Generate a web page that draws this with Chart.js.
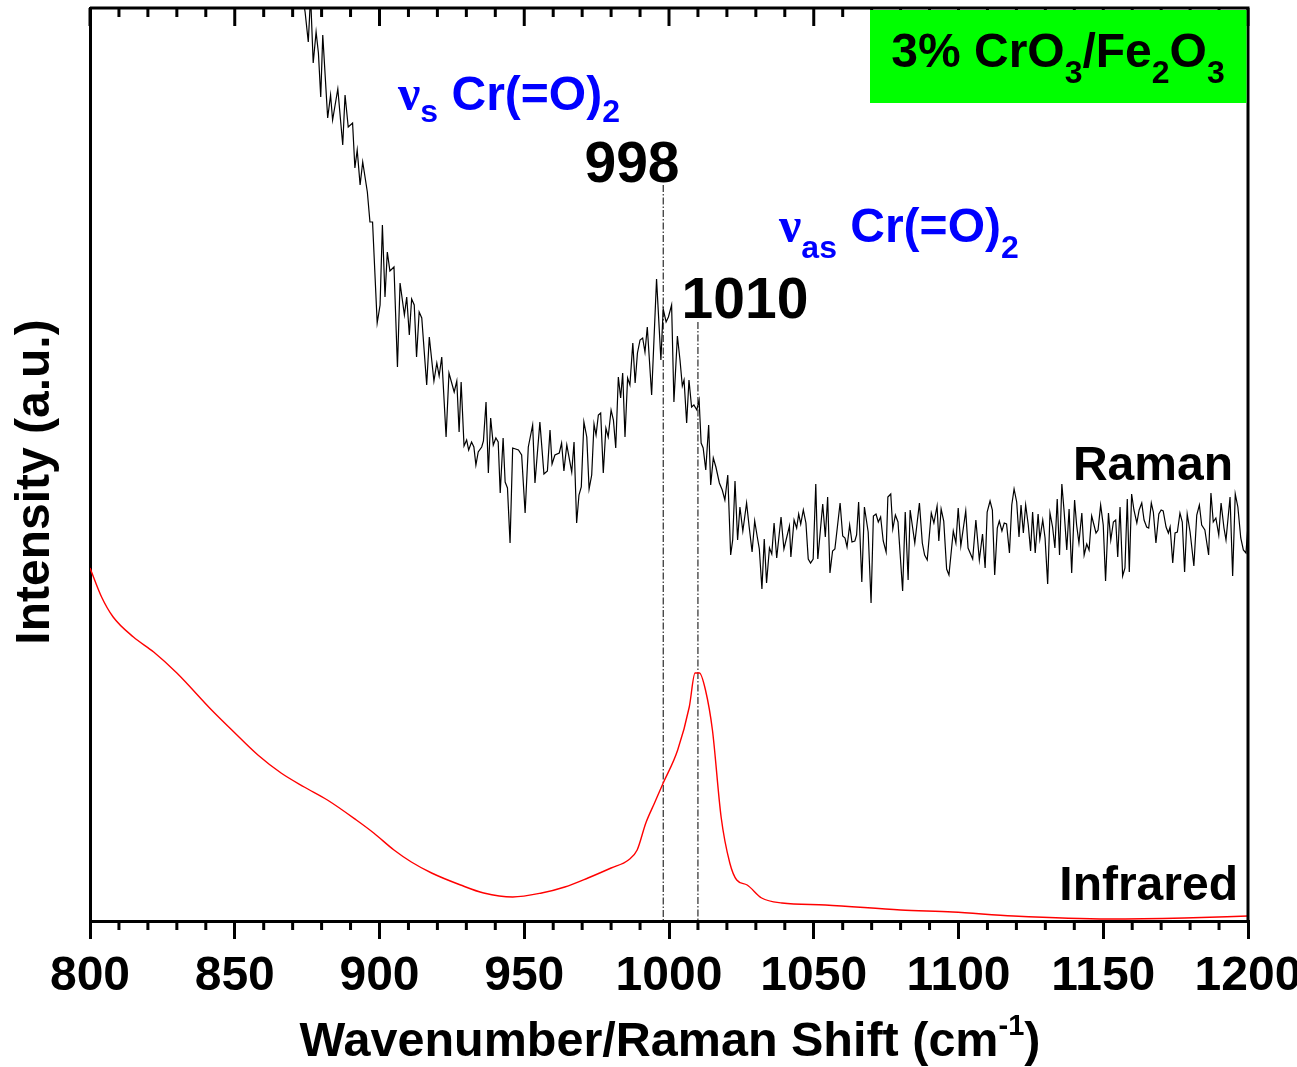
<!DOCTYPE html>
<html>
<head>
<meta charset="utf-8">
<script src="https://cdn.jsdelivr.net/npm/chart.js@4"></script>
<style>
  html, body { margin: 0; padding: 0; background: #fff; }
  #wrap { width: 1297px; height: 1067px; }
</style>
</head>
<body>
<div id="wrap"><canvas id="grafico" width="1297" height="1067"></canvas></div>
<script>
const FONT = '"Liberation Sans", Arial, sans-serif';

// Raman spectrum (black); intensity in arbitrary units
const ramanWavenumber = [
  800, 801, 820, 850, 872, 874.3, 875.4, 876.2, 877.1, 878.1, 878.9, 879.7, 880.4, 882.1, 883.1, 883.8,
  885.6, 887.3, 888.1, 889.2, 890.7, 891.5, 892.3, 893.3, 894.2, 895.8, 896.7, 897.6, 899.2, 900.2,
  901.0, 901.9, 902.7, 903.6, 905.0, 906.2, 907.1, 908.6, 909.4, 910.3, 911.1, 912.0, 912.8, 913.7,
  914.6, 916.3, 917.2, 918.8, 919.8, 920.6, 921.5, 923.0, 924.0, 925.8, 926.7, 927.5, 928.2, 929.2,
  930.1, 930.8, 931.8, 932.6, 933.3, 934.1, 935.3, 935.9, 936.8, 937.6, 938.4, 939.3, 940.2, 941.0,
  941.7, 942.7, 943.4, 944.2, 945.1, 946.0, 948.0, 949.1, 950.3, 951.4, 952.9, 953.7, 955.4, 956.8,
  958.0, 958.9, 959.6, 960.6, 962.1, 962.9, 963.7, 964.7, 966.4, 967.2, 968.1, 968.9, 969.7, 970.6,
  971.6, 972.4, 973.3, 974.1, 974.8, 975.6, 976.4, 977.3, 978.2, 979.0, 980.0, 980.8, 981.6, 982.5,
  983.3, 984.0, 984.8, 985.7, 986.5, 987.5, 988.3, 989.1, 990.0, 990.9, 991.7, 992.5, 994.0, 995.7,
  997.2, 998.0, 999.0, 999.8, 1000.9, 1001.7, 1002.9, 1003.8, 1004.6, 1005.2, 1006.1, 1006.9, 1007.8,
  1008.6, 1009.6, 1010.4, 1011.1, 1011.8, 1012.7, 1013.7, 1014.4, 1015.3, 1016.2, 1017.4, 1018.4,
  1019.3, 1020.3, 1021.3, 1022.0, 1022.8, 1023.7, 1024.5, 1025.5, 1026.8, 1027.7, 1028.7, 1029.6,
  1030.5, 1031.2, 1032.1, 1032.9, 1033.7, 1034.7, 1035.5, 1036.3, 1037.2, 1038.7, 1039.7, 1041.6,
  1042.1, 1043.2, 1044.1, 1044.8, 1045.5, 1046.4, 1047.3, 1048.1, 1048.9, 1049.8, 1050.7, 1051.4,
  1053.1, 1054.0, 1054.8, 1055.6, 1056.5, 1057.3, 1059.1, 1060.0, 1060.8, 1061.5, 1062.4, 1063.2,
  1064.2, 1064.8, 1065.5, 1066.6, 1067.5, 1068.8, 1069.8, 1070.6, 1071.5, 1072.3, 1073.1, 1074.0,
  1075.0, 1075.6, 1076.6, 1077.3, 1078.2, 1079.1, 1080.7, 1081.6, 1082.6, 1083.3, 1084.9, 1086.5,
  1087.5, 1088.3, 1089.2, 1090.6, 1091.5, 1092.6, 1093.2, 1094.0, 1094.9, 1095.9, 1096.7, 1098.2,
  1099.1, 1099.9, 1100.8, 1102.5, 1103.3, 1104.9, 1106.0, 1107.2, 1108.3, 1109.2, 1109.9, 1110.9,
  1111.7, 1112.5, 1113.4, 1114.1, 1115.0, 1115.8, 1116.6, 1117.6, 1118.4, 1119.2, 1120.1, 1120.9,
  1121.6, 1122.4, 1123.2, 1124.1, 1124.9, 1125.6, 1126.5, 1127.5, 1128.1, 1129.1, 1129.9, 1130.8,
  1131.6, 1132.5, 1133.3, 1134.1, 1134.9, 1135.7, 1136.5, 1137.4, 1138.2, 1139.1, 1140.1, 1140.8,
  1141.6, 1142.6, 1143.4, 1144.3, 1145.1, 1146.0, 1146.8, 1147.5, 1148.2, 1149.1, 1150.0, 1150.8,
  1151.8, 1152.6, 1153.5, 1154.3, 1155.0, 1155.8, 1156.7, 1157.5, 1158.3, 1159.0, 1159.8, 1160.6,
  1161.6, 1162.4, 1163.3, 1164.1, 1165.0, 1165.7, 1166.6, 1167.3, 1168.2, 1169.2, 1170.0, 1170.7,
  1171.7, 1172.5, 1173.1, 1174.0, 1174.8, 1175.6, 1176.5, 1177.3, 1178.1, 1179.0, 1180.0, 1181.3,
  1182.3, 1183.2, 1184.0, 1185.1, 1186.4, 1187.2, 1188.0, 1188.9, 1189.9, 1190.7, 1191.7, 1192.4,
  1193.8, 1194.7, 1195.6, 1196.5, 1197.5, 1198.4, 1199.3, 1200
];
const ramanIntensity = [
  871, 960, 1150, 1100, 950, 909, 879, 925, 858, 889, 868, 824, 886, 803, 826, 801,
  832, 776, 826, 794, 798, 753, 771, 736, 759, 729, 699, 699, 598, 616,
  696, 624, 669, 650, 654, 554, 638, 606, 624, 586, 622, 616, 564, 609,
  603, 536, 584, 540, 558, 545, 564, 484, 548, 529, 540, 489, 539, 475,
  481, 471, 479, 474, 456, 469, 474, 480, 519, 448, 503, 476, 483, 479,
  428, 483, 439, 433, 378, 473, 471, 466, 408, 474, 496, 438, 499, 447,
  450, 491, 457, 466, 468, 478, 450, 476, 449, 479, 398, 426, 434, 499,
  484, 432, 446, 497, 486, 506, 508, 448, 493, 484, 511, 501, 473, 544,
  523, 548, 484, 543, 536, 578, 538, 568, 581, 583, 569, 594, 526, 642,
  561, 612, 599, 604, 616, 519, 585, 561, 535, 541, 498, 541, 514,
  516, 511, 521, 478, 473, 451, 496, 436, 463, 454, 438, 431,
  421, 446, 366, 381, 440, 381, 414, 390, 418, 394, 369, 400,
  384, 372, 332, 382, 338, 373, 367, 398, 363, 404, 372, 395,
  364, 401, 393, 407, 397, 411, 398, 362, 358, 362, 437, 362,
  417, 384, 424, 348, 370, 372, 418, 385, 383, 374, 396, 379,
  380, 386, 419, 339, 414, 389, 318, 405, 407, 399, 404, 380,
  369, 424, 427, 392, 406, 399, 330, 409, 341, 411, 378, 418,
  378, 366, 361, 408, 398, 415, 380, 412, 400, 352, 346, 390,
  378, 413, 375, 410, 373, 362, 401, 361, 387, 353, 409, 420,
  411, 346, 393, 400, 390, 398, 397, 368, 416, 432, 419, 384,
  416, 388, 416, 396, 370, 409, 368, 407, 382, 401, 383, 337,
  408, 394, 373, 422, 366, 437, 409, 371, 412, 348, 421, 396,
  378, 408, 366, 377, 371, 405, 396, 388, 391, 416, 396, 340,
  408, 381, 399, 401, 364, 414, 345, 353, 422, 349, 427, 411,
  398, 411, 418, 401, 394, 393, 418, 409, 378, 407, 411, 410,
  394, 388, 394, 358, 388, 389, 408, 399, 349, 407, 389, 355,
  406, 416, 396, 391, 366, 428, 399, 403, 386, 418, 393, 381,
  424, 345, 427, 414, 383, 371, 368, 396
];

// Infrared spectrum (red)
const irWavenumber = [
  800, 804, 808, 815, 822, 830, 842, 849, 858, 866, 874, 882, 892, 898, 905, 911, 918, 928, 936,
  946, 956, 964, 972, 980, 986, 989, 992, 995, 998, 1003, 1007, 1009, 1010.5, 1012.6, 1015, 1018,
  1021, 1023.4, 1027, 1032, 1039, 1054, 1080, 1098, 1119, 1152, 1178, 1200
];
const irIntensity = [
  353, 324, 304, 284, 269, 248, 211, 191, 166, 148, 134, 121, 101, 88, 71, 59, 48, 36, 28,
  24, 28, 34, 43, 53, 61, 71, 98, 118, 138, 171, 214, 248, 248, 231, 191, 104,
  58, 41, 36, 23, 18, 16, 11, 9, 5, 2, 3, 5
];

// marked band positions and the height of their guide lines
const bandPositions = [998, 1010];
const bandLineTops = [736, 599];

const xTicks = [800, 850, 900, 950, 1000, 1050, 1100, 1150, 1200];

const pts = (xs, ys) => xs.map((v, i) => ({ x: v, y: ys[i] }));

function rich(ctx, parts, x, y, align) {
  let w = 0;
  parts.forEach(p => { ctx.font = 'bold ' + p[1] + 'px ' + (p[3] || FONT); w += ctx.measureText(p[0]).width; });
  let cx = align === 'right' ? x - w : align === 'center' ? x - w / 2 : x;
  parts.forEach(p => {
    ctx.font = 'bold ' + p[1] + 'px ' + (p[3] || FONT);
    ctx.fillText(p[0], cx, y + (p[2] || 0));
    cx += ctx.measureText(p[0]).width;
  });
}

const NU = '"Liberation Serif", serif';

const decor = {
  id: 'decor',
  afterDraw(chart) {
    const { ctx, chartArea: a, scales: { x } } = chart;
    ctx.save();
    ctx.strokeStyle = '#000';
    ctx.lineWidth = 3;
    ctx.beginPath();
    ctx.moveTo(a.left, a.top);
    ctx.lineTo(a.right, a.top);
    ctx.lineTo(a.right, a.bottom);
    ctx.stroke();
    for (let v = 800; v <= 1200; v += 10) {
      const px = x.getPixelForValue(v);
      const major = v % 50 === 0;
      ctx.beginPath();
      ctx.moveTo(px, a.top);
      ctx.lineTo(px, a.top + (major ? 18 : 9));
      if (!major) {
        ctx.moveTo(px, a.bottom);
        ctx.lineTo(px, a.bottom + 9);
      }
      ctx.stroke();
    }

    // sample box
    ctx.fillStyle = '#00ff00';
    ctx.fillRect(870, a.top + 2, a.right - 871.5, 93);
    ctx.fillStyle = '#000';
    ctx.textBaseline = 'alphabetic';
    rich(ctx, [['3% CrO', 48], ['3', 32, 16], ['/Fe', 48], ['2', 32, 16], ['O', 48], ['3', 32, 16]], 1058, 67, 'center');

    // band labels
    ctx.fillStyle = '#0000ff';
    rich(ctx, [['\u03bd', 50, 0, NU], ['s', 32, 12], [' Cr(=O)', 48], ['2', 32, 12]], 398, 110, 'left');
    rich(ctx, [['\u03bd', 50, 0, NU], ['as', 32, 16], [' Cr(=O)', 48], ['2', 32, 16]], 779, 242, 'left');
    ctx.fillStyle = '#000';
    rich(ctx, [['998', 57]], 632, 182, 'center');
    rich(ctx, [['1010', 57]], 745, 318, 'center');
    rich(ctx, [['Raman', 48]], 1233, 480, 'right');
    rich(ctx, [['Infrared', 48]], 1238, 900, 'right');

    // axis titles
    rich(ctx, [['Wavenumber/Raman Shift (cm', 48.5], ['-1', 29, -21], [')', 48.5]], 670, 1056, 'center');
    ctx.translate(49, 482);
    ctx.rotate(-Math.PI / 2);
    rich(ctx, [['Intensity (a.u.)', 48]], 0, 0, 'center');
    ctx.restore();
  }
};

const ctx = document.getElementById('grafico');

new Chart(ctx, {
  type: 'line',
  data: {
    datasets: [
      {
        label: 'Infrared',
        data: pts(irWavenumber, irIntensity),
        borderColor: '#ff0000',
        borderWidth: 1.4,
        pointRadius: 0,
        cubicInterpolationMode: 'monotone'
      },
      {
        label: 'Raman',
        data: pts(ramanWavenumber, ramanIntensity),
        borderColor: '#000',
        borderWidth: 1.2,
        pointRadius: 0,
        tension: 0
      },
      ...bandPositions.map((b, i) => ({
        label: String(b),
        data: [{ x: b, y: bandLineTops[i] }, { x: b, y: 0 }],
        borderColor: '#000',
        borderWidth: 1,
        borderDash: [7, 2, 1.5, 2],
        pointRadius: 0
      }))
    ]
  },
  options: {
    responsive: false,
    animation: false,
    events: [],
    layout: { padding: { left: 0, right: 49, top: 8, bottom: 0 } },
    plugins: { legend: { display: false }, tooltip: { enabled: false } },
    scales: {
      x: {
        type: 'linear',
        min: 800,
        max: 1200,
        afterBuildTicks: s => { s.ticks = xTicks.map(v => ({ value: v })); },
        afterFit: s => { s.height = 146; s.paddingLeft = 0; s.paddingRight = 0; },
        border: { display: true, color: '#000', width: 3 },
        grid: { drawOnChartArea: false, drawTicks: true, tickLength: 18, lineWidth: 3, color: '#000' },
        ticks: {
          color: '#000',
          font: { family: FONT, size: 48, weight: 'bold' },
          padding: 9,
          maxRotation: 0,
          autoSkip: false,
          callback: v => String(v)
        }
      },
      y: {
        min: 0,
        max: 913,
        afterFit: s => { s.width = 90; },
        border: { display: true, color: '#000', width: 3 },
        grid: { display: false },
        ticks: { display: false }
      }
    }
  },
  plugins: [decor]
});
</script>
</body>
</html>
